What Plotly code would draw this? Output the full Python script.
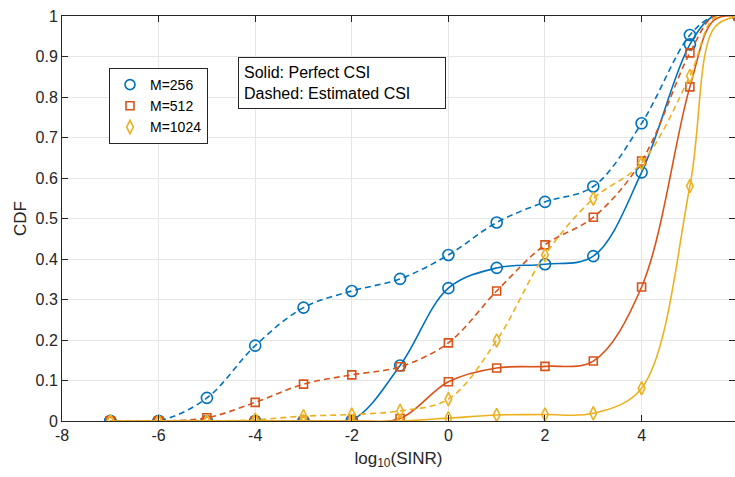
import plotly.graph_objects as go

# ---------------- data ----------------
x_pts = [-7, -6, -5, -4, -3, -2, -1, 0, 1, 2, 3, 4, 5, 6]

perfect_256 = [0, 0, 0, 0, 0, 0.002, 0.137, 0.328, 0.378, 0.387, 0.407, 0.614, 0.930, 1]
perfect_512 = [0, 0, 0, 0, 0, 0, 0.006, 0.097, 0.131, 0.135, 0.148, 0.331, 0.825, 1]
perfect_1024 = [0, 0, 0, 0, 0, 0, 0, 0.007, 0.015, 0.016, 0.019, 0.081, 0.580, 1]

est_256 = [0, 0, 0.057, 0.186, 0.280, 0.321, 0.351, 0.410, 0.490, 0.541, 0.579, 0.735, 0.953, 1]
est_512 = [0, 0, 0.008, 0.046, 0.091, 0.114, 0.134, 0.193, 0.321, 0.435, 0.503, 0.642, 0.909, 1]
est_1024 = [0, 0, 0, 0.003, 0.012, 0.016, 0.025, 0.054, 0.199, 0.410, 0.549, 0.637, 0.852, 1]

# extra curve samples read near the saturation region (x = 5.5)
x_sat = 5.5
sat_perfect = {"256": 1.0, "512": 0.99, "1024": 0.97}
sat_est = {"256": 1.0, "512": 1.0, "1024": 0.995}

labels = ["M=256", "M=512", "M=1024"]
x_ticks = [-8, -6, -4, -2, 0, 2, 4, 6]
y_ticks = [0, 0.1, 0.2, 0.3, 0.4, 0.5, 0.6, 0.7, 0.8, 0.9, 1]
y_tick_text = ["0", "0.1", "0.2", "0.3", "0.4", "0.5", "0.6", "0.7", "0.8", "0.9", "1"]

# ---------------- styles ----------------
colors = ["#0072BD", "#D95319", "#EDB120"]
symbols = ["circle-open", "square-open", "diamond-tall-open"]
sizes = [11, 8, 9.5]
leg_sizes = [10, 8, 9.5]
AX = "#262626"
FONT = "Liberation Sans, Arial, sans-serif"


def with_sat(vals, sat):
    xs = x_pts[:-1] + [x_sat, x_pts[-1]]
    ys = vals[:-1] + [sat, vals[-1]]
    return xs, ys


fig = go.Figure()

series = [
    ("256", perfect_256, est_256),
    ("512", perfect_512, est_512),
    ("1024", perfect_1024, est_1024),
]

for i, (key, perf, est) in enumerate(series):
    for vals, sat, dash in ((perf, sat_perfect[key], "solid"), (est, sat_est[key], "6px,4px")):
        lx, ly = with_sat(vals, sat)
        fig.add_trace(go.Scatter(
            x=lx, y=ly, mode="lines",
            line=dict(color=colors[i], width=1.6, dash=dash, shape="spline", smoothing=1.0),
            showlegend=False, hoverinfo="skip"))
        fig.add_trace(go.Scatter(
            x=x_pts, y=vals, mode="markers",
            marker=dict(symbol=symbols[i], size=sizes[i], color=colors[i],
                        line=dict(color=colors[i], width=1.6)),
            showlegend=False))

# legend-only entries (markers only)
for i, lab in enumerate(labels):
    fig.add_trace(go.Scatter(
        x=[None], y=[None], mode="markers", name=lab,
        marker=dict(symbol=symbols[i], size=leg_sizes[i], color=colors[i],
                    line=dict(color=colors[i], width=1.6))))

L, R, T, B = 62, 0, 16, 56
W, H = 735, 477
pw, ph = W - L - R, H - T - B

fig.add_annotation(
    xref="paper", yref="paper",
    x=(238 - L) / pw, y=(H - B - 57) / ph,
    xanchor="left", yanchor="top",
    text="Solid: Perfect CSI<br>Dashed: Estimated CSI",
    align="left", showarrow=False,
    font=dict(family=FONT, size=16, color="#000000"),
    bordercolor=AX, borderwidth=1, borderpad=5,
    bgcolor="white", width=196, height=40)

# partially visible "6" tick label at the clipped right edge
fig.add_annotation(
    xref="paper", yref="paper", x=1.0, y=0, xanchor="left", xshift=-2, yanchor="top", yshift=-6,
    text="6", showarrow=False, font=dict(family=FONT, size=16, color=AX))

fig.update_layout(
    width=W, height=H,
    margin=dict(l=L, r=R, t=T, b=B, pad=0),
    paper_bgcolor="white", plot_bgcolor="white",
    font=dict(family=FONT, size=16, color=AX),
    legend=dict(
        x=(109 - L) / pw, y=(H - B - 68) / ph, xanchor="left", yanchor="top",
        bgcolor="white", bordercolor=AX, borderwidth=1,
        font=dict(family=FONT, size=14, color="#000000"),
        itemwidth=30, tracegroupgap=0),
    xaxis=dict(
        range=[-8, 5.934], tickvals=x_ticks, ticktext=[str(v) for v in x_ticks],
        showgrid=True, gridcolor="#E6E6E6", gridwidth=1, zeroline=False,
        showline=True, linecolor=AX, linewidth=1, mirror="ticks",
        ticks="inside", ticklen=6, tickcolor=AX, tickwidth=1,
        tickfont=dict(family=FONT, size=16, color=AX),
        title=dict(text="log<sub>10</sub>(SINR)", font=dict(family=FONT, size=17, color=AX),
                   standoff=8)),
    yaxis=dict(
        range=[0, 1], tickvals=y_ticks, ticktext=y_tick_text,
        showgrid=True, gridcolor="#E6E6E6", gridwidth=1, zeroline=False,
        showline=True, linecolor=AX, linewidth=1, mirror="ticks",
        ticks="inside", ticklen=6, tickcolor=AX, tickwidth=1,
        tickfont=dict(family=FONT, size=16, color=AX),
        title=dict(text="CDF", font=dict(family=FONT, size=17, color=AX), standoff=4)),
)

fig.write_html("out.html")
